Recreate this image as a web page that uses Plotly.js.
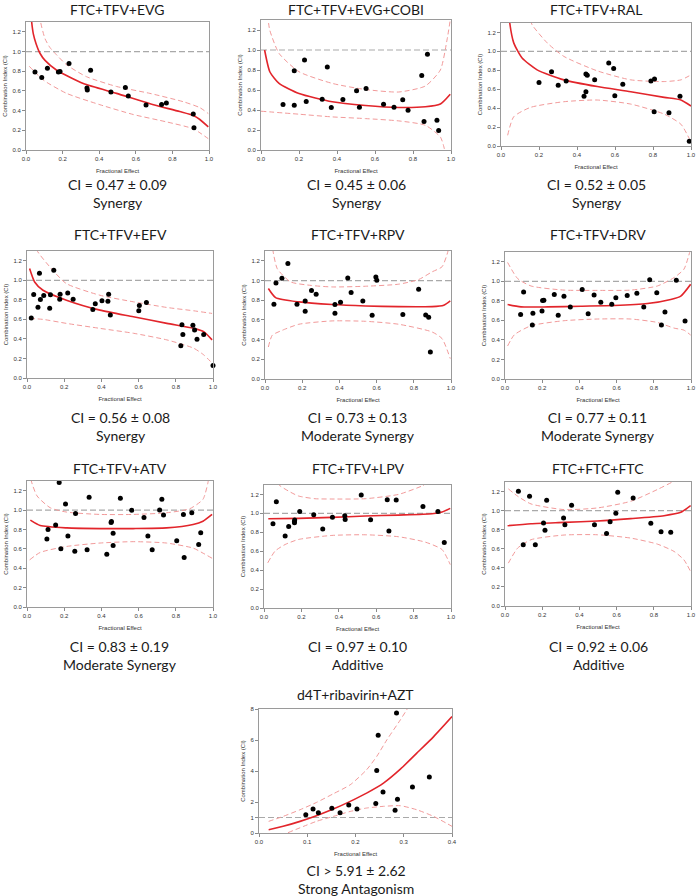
<!DOCTYPE html>
<html><head><meta charset="utf-8">
<script src="https://cdn.plot.ly/plotly-3.0.1.min.js"></script>
<style>html,body{margin:0;padding:0;background:#fff}#chart{width:696px;height:896px}</style>
</head><body><div id="chart"></div>
<script>
// ---------- DATA ----------
const titles = ["FTC+TFV+EVG","FTC+TFV+EVG+COBI","FTC+TFV+RAL","FTC+TFV+EFV","FTC+TFV+RPV","FTC+TFV+DRV","FTC+TFV+ATV","FTC+TFV+LPV","FTC+FTC+FTC","d4T+ribavirin+AZT"];
const ciTexts = ["CI = 0.47 ± 0.09","CI = 0.45 ± 0.06","CI = 0.52 ± 0.05","CI = 0.56 ± 0.08","CI = 0.73 ± 0.13","CI = 0.77 ± 0.11","CI = 0.83 ± 0.19","CI = 0.97 ± 0.10","CI = 0.92 ± 0.06","CI > 5.91 ± 2.62"];
const verdicts = ["Synergy","Synergy","Synergy","Synergy","Moderate Synergy","Moderate Synergy","Moderate Synergy","Additive","Additive","Strong Antagonism"];
const additiveCI = 1;

// Panel 1: FTC+TFV+EVG
const fe1 = [0.049,0.086,0.117,0.177,0.186,0.235,0.333,0.335,0.353,0.464,0.543,0.559,0.656,0.741,0.767,0.914,0.918];
const ci1 = [0.793,0.736,0.83,0.793,0.797,0.878,0.63,0.61,0.81,0.59,0.634,0.549,0.458,0.461,0.478,0.366,0.227];
const fit1X = [0.025,0.031,0.04,0.055,0.077,0.104,0.168,0.313,0.495,0.678,0.84,0.914,0.95,0.996];
const fit1Y = [1.45,1.30,1.18,1.08,0.98,0.91,0.81,0.675,0.575,0.47,0.39,0.35,0.31,0.235];
const up1X = [0.075,0.08,0.104,0.131,0.16,0.222,0.33,0.495,0.677,0.86,0.95,0.996];
const up1Y = [1.45,1.30,1.13,1.04,0.98,0.865,0.745,0.645,0.575,0.49,0.43,0.37];
const lo1X = [0.018,0.095,0.222,0.404,0.587,0.769,0.914,0.996];
const lo1Y = [0.85,0.71,0.575,0.46,0.36,0.285,0.215,0.115];

// Panel 2: FTC+TFV+EVG+COBI
const fe2 = [0.116,0.175,0.175,0.229,0.238,0.322,0.349,0.37,0.431,0.503,0.518,0.553,0.645,0.70,0.746,0.774,0.846,0.876,0.858,0.926,0.935];
const ci2 = [0.455,0.448,0.793,0.90,0.485,0.508,0.829,0.425,0.505,0.592,0.428,0.615,0.458,0.428,0.502,0.398,0.746,0.957,0.284,0.298,0.194];
const fit2X = [0.019,0.047,0.095,0.2,0.375,0.55,0.725,0.865,0.944,0.996];
const fit2Y = [1.0,0.78,0.666,0.565,0.482,0.445,0.425,0.432,0.46,0.558];
const up2X = [0.035,0.046,0.095,0.2,0.375,0.55,0.725,0.865,0.944,0.979,0.996];
const up2Y = [1.35,1.2,0.966,0.783,0.666,0.605,0.58,0.64,0.8,1.1,1.3];
const lo2X = [0.0,0.2,0.375,0.55,0.725,0.865,0.944,0.965,0.975];
const lo2Y = [0.388,0.358,0.331,0.314,0.291,0.247,0.13,0.013,-0.1];

// Panel 3: FTC+TFV+RAL
const fe3 = [0.20,0.266,0.301,0.343,0.437,0.447,0.454,0.447,0.493,0.567,0.593,0.599,0.641,0.789,0.808,0.806,0.884,0.942,0.991];
const ci3 = [0.67,0.784,0.642,0.688,0.525,0.762,0.748,0.574,0.699,0.876,0.819,0.532,0.652,0.688,0.709,0.362,0.351,0.525,0.05];
const fit3X = [0.04,0.046,0.067,0.111,0.19,0.331,0.507,0.683,0.859,0.947,1.0];
const fit3Y = [1.45,1.3,1.09,0.93,0.805,0.699,0.628,0.574,0.514,0.486,0.422];
const up3X = [0.155,0.164,0.243,0.331,0.507,0.683,0.859,0.947,1.0];
const up3Y = [1.33,1.28,1.09,0.947,0.794,0.699,0.681,0.699,0.752];
const lo3X = [0.035,0.067,0.155,0.331,0.507,0.683,0.859,0.947,0.991];
const lo3Y = [0.113,0.309,0.408,0.468,0.486,0.443,0.337,0.23,0.078];

// Panel 4: FTC+TFV+EFV
const fe4 = [0.023,0.036,0.059,0.067,0.072,0.09,0.126,0.122,0.144,0.176,0.178,0.219,0.248,0.354,0.367,0.403,0.435,0.439,0.448,0.601,0.604,0.642,0.833,0.838,0.827,0.892,0.901,0.914,0.95,1.0];
const ci4 = [0.614,0.854,0.725,1.071,0.803,0.844,0.851,0.715,1.102,0.807,0.857,0.871,0.807,0.702,0.759,0.79,0.786,0.857,0.644,0.688,0.742,0.773,0.546,0.444,0.329,0.539,0.492,0.397,0.444,0.129];
const fit4X = [0.014,0.041,0.086,0.212,0.392,0.572,0.752,0.896,0.95,0.995];
const fit4Y = [1.12,0.983,0.898,0.797,0.695,0.627,0.559,0.508,0.475,0.39];
const up4X = [0.045,0.054,0.14,0.212,0.392,0.572,0.752,0.896,0.995];
const up4Y = [1.4,1.305,1.10,0.966,0.847,0.78,0.722,0.688,0.661];
const lo4X = [0.014,0.086,0.212,0.392,0.572,0.752,0.896,0.95,0.995];
const lo4Y = [0.61,0.6,0.559,0.508,0.458,0.39,0.305,0.237,0.153];

// Panel 5: FTC+TFV+RPV
const fe5 = [0.048,0.059,0.091,0.123,0.172,0.216,0.216,0.25,0.275,0.376,0.376,0.406,0.445,0.463,0.526,0.576,0.596,0.601,0.741,0.826,0.864,0.88,0.889];
const ci5 = [0.759,0.976,1.024,1.173,0.759,0.793,0.688,0.898,0.861,0.756,0.668,0.78,1.027,0.878,0.793,0.647,1.037,1.003,0.654,0.912,0.651,0.627,0.275];
const fit5X = [0.018,0.057,0.182,0.361,0.54,0.719,0.898,0.961,0.996];
const fit5Y = [0.919,0.827,0.783,0.756,0.742,0.735,0.735,0.749,0.793];
const up5X = [0.036,0.043,0.066,0.138,0.25,0.361,0.54,0.719,0.826,0.898,0.952,0.984,0.99];
const up5Y = [1.4,1.3,1.12,0.986,0.95,0.935,0.942,0.963,1.01,1.088,1.14,1.3,1.4];
const lo5X = [0.018,0.039,0.093,0.182,0.361,0.54,0.719,0.898,0.952,0.996];
const lo5Y = [0.325,0.444,0.495,0.556,0.59,0.586,0.556,0.478,0.41,0.207];

// Panel 6: FTC+TFV+DRV
const fe6 = [0.084,0.1,0.15,0.147,0.199,0.202,0.209,0.265,0.286,0.317,0.351,0.415,0.447,0.479,0.515,0.574,0.596,0.657,0.709,0.746,0.778,0.816,0.86,0.841,0.921,0.968];
const ci6 = [0.659,0.89,0.672,0.552,0.697,0.803,0.807,0.866,0.652,0.848,0.738,0.917,0.669,0.859,0.786,0.766,0.831,0.855,0.879,0.738,1.017,0.883,0.686,0.552,1.01,0.593];
const fit6X = [0.014,0.086,0.229,0.408,0.587,0.766,0.891,0.945,0.998];
const fit6Y = [0.762,0.738,0.738,0.745,0.752,0.772,0.814,0.848,0.969];
const up6X = [0.014,0.068,0.14,0.318,0.497,0.676,0.819,0.909,0.962,0.993];
const up6Y = [1.193,1.028,0.952,0.91,0.907,0.91,0.952,1.038,1.124,1.297];
const lo6X = [0.014,0.05,0.14,0.318,0.497,0.676,0.819,0.909,0.962,0.998];
const lo6Y = [0.338,0.452,0.545,0.597,0.614,0.614,0.579,0.521,0.5,0.45];

// Panel 7: FTC+TFV+ATV
const fe7 = [0.107,0.113,0.154,0.173,0.182,0.207,0.22,0.261,0.257,0.323,0.334,0.429,0.454,0.452,0.463,0.463,0.502,0.563,0.629,0.65,0.673,0.713,0.725,0.734,0.805,0.841,0.845,0.886,0.923,0.934];
const ci7 = [0.701,0.799,0.847,1.285,0.601,1.062,0.733,0.965,0.576,0.59,1.132,0.545,0.882,0.872,0.76,0.635,1.122,0.997,0.924,0.733,0.59,1.0,1.111,0.948,0.684,0.955,0.51,0.972,0.646,0.767];
const fit7X = [0.018,0.071,0.214,0.393,0.571,0.75,0.893,0.946,0.995];
const fit7Y = [0.896,0.84,0.816,0.809,0.809,0.816,0.851,0.885,0.955];
const up7X = [0.018,0.023,0.054,0.125,0.214,0.393,0.571,0.75,0.875,0.946,0.973,0.98];
const up7Y = [1.4,1.302,1.146,1.024,0.979,0.955,0.955,0.972,1.014,1.111,1.285,1.4];
const lo7X = [0.014,0.071,0.214,0.393,0.571,0.75,0.893,0.946,0.995];
const lo7Y = [0.486,0.563,0.625,0.66,0.674,0.66,0.608,0.556,0.503];

// Panel 8: FTC+TFV+LPV
const fe8 = [0.048,0.066,0.113,0.132,0.163,0.164,0.163,0.191,0.266,0.314,0.366,0.432,0.434,0.52,0.57,0.659,0.668,0.707,0.85,0.93,0.964];
const ci8 = [0.89,1.124,0.76,0.862,0.915,0.929,0.901,1.021,0.986,0.834,0.958,0.975,0.936,1.194,0.933,1.145,0.813,1.141,1.074,1.021,0.693];
const fit8X = [0.023,0.184,0.363,0.541,0.72,0.898,0.952,0.996];
const fit8Y = [0.943,0.947,0.958,0.972,0.982,0.996,1.014,1.053];
const up8X = [0.06,0.077,0.13,0.184,0.273,0.363,0.541,0.72,0.845,0.87];
const up8Y = [1.4,1.307,1.237,1.184,1.155,1.152,1.155,1.201,1.29,1.32];
const lo8X = [0.02,0.059,0.113,0.184,0.363,0.541,0.72,0.863,0.952,0.996];
const lo8Y = [0.477,0.601,0.671,0.724,0.767,0.774,0.753,0.696,0.618,0.459];

// Panel 9: FTC+FTC+FTC
const fe9 = [0.072,0.098,0.132,0.163,0.207,0.215,0.224,0.315,0.322,0.358,0.481,0.546,0.565,0.596,0.606,0.689,0.784,0.839,0.891];
const ci9 = [1.204,0.642,1.151,0.642,0.87,0.793,1.109,0.923,0.853,1.056,0.853,0.761,0.884,0.972,1.193,1.133,0.867,0.779,0.772];
const fit9X = [0.014,0.14,0.318,0.497,0.676,0.855,0.945,0.998];
const fit9Y = [0.842,0.863,0.877,0.891,0.916,0.947,0.982,1.053];
const up9X = [0.018,0.068,0.14,0.318,0.497,0.676,0.819,0.909,0.95];
const up9Y = [1.228,1.151,1.07,1.011,1.028,1.098,1.221,1.309,1.35];
const lo9X = [0.018,0.068,0.14,0.318,0.497,0.676,0.819,0.909,0.962,0.998];
const lo9Y = [0.449,0.607,0.695,0.744,0.747,0.712,0.649,0.572,0.484,0.361];

// Panel 10: d4T+ribavirin+AZT
const fe10 = [0.097,0.112,0.123,0.151,0.168,0.186,0.203,0.242,0.244,0.247,0.257,0.282,0.285,0.287,0.318,0.353];
const ci10 = [1.18,1.545,1.31,1.59,1.31,1.8,1.545,1.91,4.03,6.31,2.64,1.46,7.75,2.17,2.96,3.61];
const fit10X = [0.02,0.05,0.085,0.119,0.154,0.189,0.223,0.258,0.293,0.327,0.362,0.4];
const fit10Y = [0.215,0.43,0.75,1.116,1.545,2.04,2.575,3.22,4.12,5.15,6.22,7.51];
const up10X = [0.02,0.05,0.085,0.119,0.154,0.189,0.223,0.244,0.265,0.293,0.306,0.315];
const up10Y = [0.75,1.07,1.5,1.97,2.53,3.11,4.08,4.94,6.01,7.3,7.94,8.4];
const lo10X = [0.06,0.119,0.154,0.189,0.223,0.258,0.293,0.327,0.362,0.4];
const lo10Y = [0.02,0.75,1.07,1.39,1.61,1.72,1.76,1.5,1.07,0.43];

const xTicks01 = [0,0.2,0.4,0.6,0.8,1.0];
const yTicks01 = [0,0.2,0.4,0.6,0.8,1.0,1.2];
const xTicks10 = [0,0.1,0.2,0.3,0.4];
const yTicks10 = [0,1,2,4,6,8];

// ---------- ASSEMBLY ----------
const panels = [
  [fe1,ci1,fit1X,fit1Y,up1X,up1Y,lo1X,lo1Y],
  [fe2,ci2,fit2X,fit2Y,up2X,up2Y,lo2X,lo2Y],
  [fe3,ci3,fit3X,fit3Y,up3X,up3Y,lo3X,lo3Y],
  [fe4,ci4,fit4X,fit4Y,up4X,up4Y,lo4X,lo4Y],
  [fe5,ci5,fit5X,fit5Y,up5X,up5Y,lo5X,lo5Y],
  [fe6,ci6,fit6X,fit6Y,up6X,up6Y,lo6X,lo6Y],
  [fe7,ci7,fit7X,fit7Y,up7X,up7Y,lo7X,lo7Y],
  [fe8,ci8,fit8X,fit8Y,up8X,up8Y,lo8X,lo8Y],
  [fe9,ci9,fit9X,fit9Y,up9X,up9Y,lo9X,lo9Y],
  [fe10,ci10,fit10X,fit10Y,up10X,up10Y,lo10X,lo10Y]
];
const W = 696, H = 896;
// plot boxes in pixels: [left,right,top,bottom]
const boxes = [[26,209,22,150],[261,451,20,150],[501,691,23,146],
               [27,213,251,378],[265,451,251,379],[505,691,252,379],
               [27,213,481,607],[264,451,485,608],[505,691,482,606],
               [259,452,709,833]];
const titleY = [9,9,9,234,234,234,468,468,468,694];
const captionY = [193,193,193,426,426,426,655,655,655,879];

const SOLID = '#e2252b', DASH = '#f29a9a', REF = '#a9a9a9';
const traces = [], layout = {
  width: W, height: H, margin: {l:0,r:0,t:0,b:0},
  paper_bgcolor: '#fff', plot_bgcolor: '#fff', showlegend: false,
  font: {family: 'Liberation Sans, Arial, sans-serif', size: 6, color: '#333'},
  annotations: [], shapes: []
};
const txtFont = {family: 'Lato, Carlito, sans-serif', size: 14, color: '#1a1a1a'};

panels.forEach((p, i) => {
  const xa = i === 0 ? 'x' : 'x' + (i + 1);
  const ya = i === 0 ? 'y' : 'y' + (i + 1);
  const [fe, ci, fx, fy, ux, uy, lx, ly] = p;
  const dl = {width: 1, color: DASH, dash: '5px,3px'};
  traces.push({x: lx, y: ly, xaxis: xa, yaxis: ya, mode: 'lines', line: Object.assign({shape:'spline', smoothing:0.6}, dl), hoverinfo:'skip'});
  traces.push({x: ux, y: uy, xaxis: xa, yaxis: ya, mode: 'lines', line: Object.assign({shape:'spline', smoothing:0.6}, dl), hoverinfo:'skip'});
  traces.push({x: fx, y: fy, xaxis: xa, yaxis: ya, mode: 'lines', line: {width: 1.6, color: SOLID, shape:'spline', smoothing:0.6}});
  traces.push({x: fe, y: ci, xaxis: xa, yaxis: ya, mode: 'markers', cliponaxis: false, marker: {size: 5, color: '#000'}});

  const b = boxes[i];
  const last = i === 9;
  const axBase = {showline: true, mirror: true, linecolor: '#9a9a9a', linewidth: 1,
    ticks: 'outside', ticklen: 3, tickcolor: '#8a8a8a', tickwidth: 1,
    showgrid: false, zeroline: false, automargin: false, fixedrange: true,
    tickfont: {size: 6, color: '#333'}};
  layout['xaxis' + (i === 0 ? '' : i + 1)] = Object.assign({}, axBase, {
    domain: [b[0] / W, b[1] / W], anchor: ya,
    range: last ? [0, 0.4] : [0, 1],
    tickvals: last ? xTicks10 : xTicks01, tickformat: '.1f',
    title: {text: 'Fractional Effect', font: {size: 6, color: '#333'}, standoff: 7}
  });
  layout['yaxis' + (i === 0 ? '' : i + 1)] = Object.assign({}, axBase, {
    domain: [1 - b[3] / H, 1 - b[2] / H], anchor: xa,
    range: last ? [0, 8] : [0, 1.3],
    tickvals: last ? yTicks10 : yTicks01, tickformat: last ? 'd' : '.1f',
    title: {text: 'Combination Index (CI)', font: {size: 6, color: '#333'}, standoff: 4}
  });
  layout.shapes.push({type: 'line', xref: xa + ' domain', yref: ya, x0: 0, x1: 1, y0: additiveCI, y1: additiveCI,
    line: {color: REF, width: 1.2, dash: '6px,3px'}, layer: 'below'});
  const cx = (b[0] + b[1]) / 2 / W;
  layout.annotations.push({text: titles[i], xref: 'paper', yref: 'paper', x: cx, y: 1 - titleY[i] / H,
    xanchor: 'center', yanchor: 'middle', showarrow: false, font: txtFont});
  layout.annotations.push({text: ciTexts[i] + '<br>' + verdicts[i], xref: 'paper', yref: 'paper', x: cx, y: 1 - captionY[i] / H,
    xanchor: 'center', yanchor: 'middle', showarrow: false, font: txtFont});
});

Plotly.newPlot('chart', traces, layout, {displayModeBar: false, staticPlot: true});
</script></body></html>
